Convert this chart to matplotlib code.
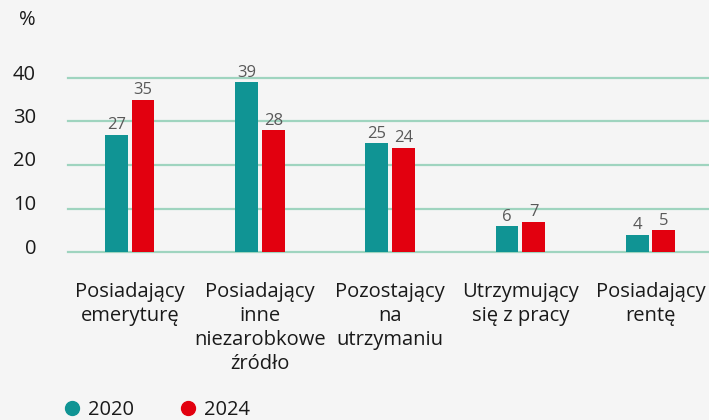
import numpy as np
import matplotlib.pyplot as plt
from matplotlib.lines import Line2D
from matplotlib.transforms import ScaledTranslation

categories = [
    "Posiadający\nemeryturę",
    "Posiadający\ninne\nniezarobkowe\nźródło",
    "Pozostający\nna\nutrzymaniu",
    "Utrzymujący\nsię z pracy",
    "Posiadający\nrentę",
]
values_2020 = [27, 39, 25, 6, 4]
values_2024 = [35, 28, 24, 7, 5]
series_names = ["2020", "2024"]
y_ticks = [0, 10, 20, 30, 40]

TEAL = "#109494"
RED = "#e2000f"
GRID = "#9fd4bf"
BG = "#f5f5f5"

plt.rcParams["font.family"] = ["Open Sans", "DejaVu Sans"]


def main():
    fig = plt.figure(figsize=(7.09, 4.2), dpi=100, facecolor=BG)
    ax = fig.add_axes([68 / 709, 168 / 420, 641 / 709, 174 / 420])
    ax.set_facecolor(BG)

    x = np.arange(len(categories))
    w = 0.175
    off = 0.102
    b1 = ax.bar(x - off, values_2020, width=w, color=TEAL, zorder=3)
    b2 = ax.bar(x + off, values_2024, width=w, color=RED, zorder=3)
    for bars in (b1, b2):
        ax.bar_label(bars, padding=1, color="#595959", fontsize=12)

    ax.set_xlim(-0.475, 4.45)
    ax.set_ylim(0, 40)
    ax.set_yticks(y_ticks)
    ax.yaxis.grid(True, color=GRID, linewidth=1.6, zorder=0)
    for gl in ax.get_ygridlines():
        gl.set_clip_on(False)
    ax.set_axisbelow(True)
    for s in ax.spines.values():
        s.set_visible(False)
    ax.tick_params(axis="y", length=0, pad=23, labelsize=14.5, labelcolor="#1a1a1a")
    ax.tick_params(axis="x", length=0, pad=21.5, labelsize=14.5, labelcolor="#1a1a1a")
    ax.set_xticks(x)
    ax.set_xticklabels(categories, linespacing=1.26)
    shift = ScaledTranslation(0, 6 / 100, fig.dpi_scale_trans)
    for lab in ax.get_yticklabels():
        lab.set_transform(lab.get_transform() + shift)

    fig.text(27 / 709, 1 - 20 / 420, "%", fontsize=14.5, color="#1a1a1a",
             ha="center", va="center")

    handles = [
        Line2D([], [], marker="o", linestyle="", color=TEAL, markersize=10),
        Line2D([], [], marker="o", linestyle="", color=RED, markersize=10),
    ]
    fig.legend(handles, series_names, loc="center left",
               bbox_to_anchor=(46 / 709, 1 - 410 / 420), ncol=2, frameon=False,
               fontsize=14.5, handlelength=0.8, handletextpad=0.4,
               columnspacing=2.25, labelcolor="#1a1a1a")

    fig.savefig("out.png", dpi=100, facecolor=BG)


if __name__ == "__main__":
    main()
